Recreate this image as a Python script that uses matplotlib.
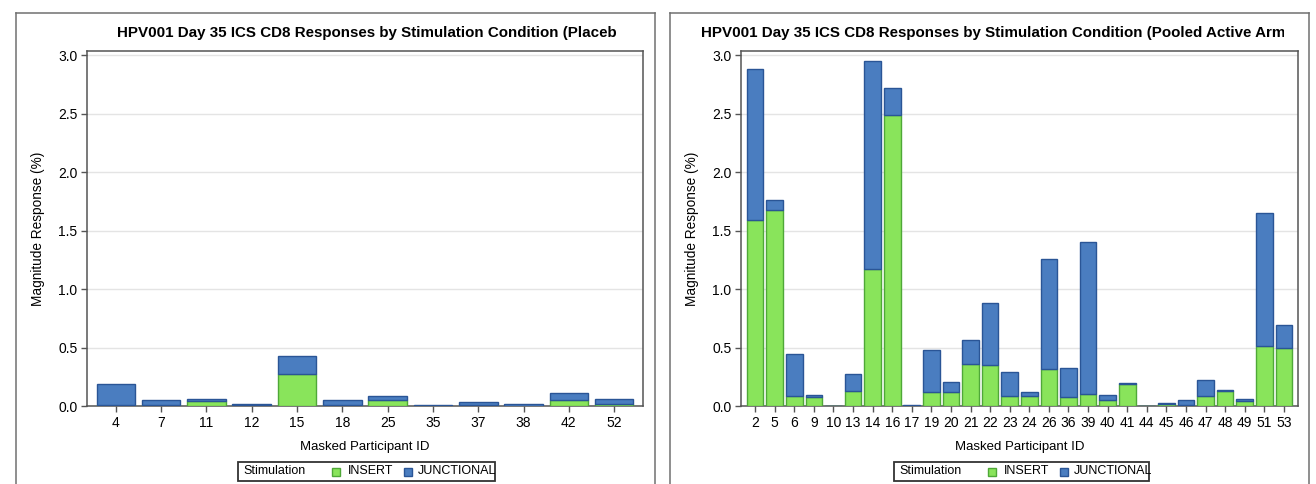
import matplotlib
matplotlib.use("Agg")
import matplotlib.pyplot as plt
from matplotlib.patches import Rectangle
from matplotlib.lines import Line2D
from matplotlib.transforms import Bbox, TransformedBbox
import numpy as np

plt.rcParams['font.family'] = ['Liberation Sans', 'DejaVu Sans']

# placebo arm
ids_placebo = ['4', '7', '11', '12', '15', '18', '25', '35', '37', '38', '42', '52']
insert_placebo = [0.005, 0.011, 0.040, 0.006, 0.270, 0.008, 0.054, 0.003, 0.006, 0.003, 0.054, 0.020]
total_placebo = [0.185, 0.051, 0.060, 0.014, 0.426, 0.054, 0.088, 0.009, 0.037, 0.017, 0.108, 0.060]

# pooled active arms
ids_active = ['2', '5', '6', '9', '10', '13', '14', '16', '17', '19', '20', '21', '22', '23',
              '24', '26', '36', '39', '40', '41', '44', '45', '46', '47', '48', '49', '51', '53']
insert_active = [1.591, 1.677, 0.083, 0.077, 0.0, 0.125, 1.172, 2.489, 0.0, 0.120, 0.120, 0.359,
                 0.348, 0.083, 0.088, 0.314, 0.074, 0.103, 0.054, 0.188, 0.0, 0.020, 0.011, 0.083,
                 0.125, 0.040, 0.510, 0.496]
total_active = [2.883, 1.762, 0.445, 0.091, 0.0, 0.274, 2.954, 2.723, 0.010, 0.476, 0.208, 0.565,
                0.878, 0.294, 0.123, 1.257, 0.328, 1.406, 0.097, 0.200, 0.0, 0.029, 0.054, 0.220,
                0.140, 0.060, 1.648, 0.690]

titles = ["HPV001 Day 35 ICS CD8 Responses by Stimulation Condition (Placebo)",
          "HPV001 Day 35 ICS CD8 Responses by Stimulation Condition (Pooled Active Arms)"]

GREEN, GREEN_EDGE = '#89E45B', '#4FA838'
BLUE, BLUE_EDGE = '#4A7DC0', '#2A5596'
W, H = 1316, 484

fig = plt.figure(figsize=(W / 100, H / 100), dpi=100)


def fx(px):
    return px / W


def fy(py):
    return 1 - py / H


def swatch(x, color, edge):
    # small legend square, 8 px wide
    fig.add_artist(Rectangle((fx(x), fy(475.5)), fx(8), 8 / H, transform=fig.transFigure,
                             facecolor=color, edgecolor=edge, lw=1))


def panel(x0, x1, frame_l, frame_r, title, title_x, title_clip, leg_l, leg_r, ids, ins, tot, pad):
    # outer frame (bottom runs off the image)
    for xs, ys in [([frame_l, frame_l], [H + 5, 13]), ([frame_l, frame_r], [13, 13]),
                   ([frame_r, frame_r], [13, H + 5])]:
        fig.add_artist(Line2D([fx(v) for v in xs], [fy(v) for v in ys], color='#707070', lw=1.1))

    # title is cut off at the right, as in the original export
    t = fig.text(fx(title_x), fy(33), title, fontsize=10.9, fontweight='bold', ha='left', va='center')
    t.set_clip_box(TransformedBbox(Bbox.from_extents(fx(title_x - 5), fy(50), fx(title_clip), fy(15)),
                                   fig.transFigure))
    t.set_clip_on(True)

    ax = fig.add_axes([fx(x0), fy(406), fx(x1) - fx(x0), fy(51) - fy(406)])
    x = np.arange(len(ids))
    ins = np.array(ins)
    jun = np.array(tot) - ins
    ax.bar(x, ins, width=0.85, color=GREEN, edgecolor=GREEN_EDGE, linewidth=1.0, zorder=3)
    ax.bar(x, jun, bottom=ins, width=0.85, color=BLUE, edgecolor=BLUE_EDGE, linewidth=1.0, zorder=3)
    ax.set_xlim(-0.5 - pad, len(ids) - 0.5 + pad)
    ax.set_ylim(0, 3.037)
    ax.set_yticks(np.arange(0, 3.01, 0.5))
    ax.set_yticklabels(['%.1f' % v for v in np.arange(0, 3.01, 0.5)])
    ax.set_xticks(x)
    ax.set_xticklabels(ids)
    ax.grid(axis='y', color='#e4e4e4', lw=1, zorder=0)
    for s in ax.spines.values():
        s.set_color('#555555')
        s.set_linewidth(1.1)
    ax.tick_params(length=4, width=1, color='#555555', labelsize=10, pad=3)
    ax.set_xlabel('Masked Participant ID', fontsize=9.5, labelpad=8)
    ax.set_ylabel('Magnitude Response (%)', fontsize=9.8, labelpad=9)

    # legend box: "Stimulation" label then the two entries
    fig.add_artist(Rectangle((fx(leg_l), fy(481)), fx(leg_r) - fx(leg_l), fy(462) - fy(481),
                             transform=fig.transFigure, fill=False, edgecolor='#333333', lw=1.3))
    fig.text(fx(leg_l + 5), fy(471.5), 'Stimulation', fontsize=9, ha='left', va='center')
    swatch(leg_l + 94, GREEN, GREEN_EDGE)
    fig.text(fx(leg_l + 110), fy(471.5), 'INSERT', fontsize=9, ha='left', va='center')
    swatch(leg_l + 166, BLUE, BLUE_EDGE)
    fig.text(fx(leg_l + 180), fy(471.5), 'JUNCTIONAL', fontsize=9, ha='left', va='center')
    return ax


panel(87, 643, 16, 655, titles[0], 117, 617, 238, 495, ids_placebo, insert_placebo, total_placebo, 0.135)
panel(741, 1298, 670, 1309, titles[1], 701, 1284, 894, 1149, ids_active, insert_active, total_active, 0.22)

fig.savefig('out.png', dpi=100)
